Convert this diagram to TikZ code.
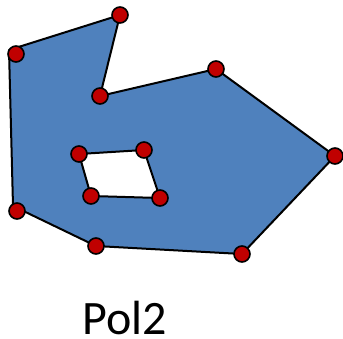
\documentclass[tikz,border=0pt]{standalone}
\usepackage{fontspec}
\setmainfont{Carlito}
\usetikzlibrary{positioning}

\definecolor{polyblue}{RGB}{79,129,189}
\definecolor{dotred}{RGB}{192,0,0}

\begin{document}
\begin{tikzpicture}[
    x=0.75pt, y=-0.75pt,
    every node/.style={font=\fontsize{36}{40}\selectfont},
    region/.style={fill=polyblue, draw=black, line width=1.5pt, even odd rule, line join=round},
    vertex/.style={circle, fill=dotred, draw=black, line width=1.2pt, inner sep=0pt, minimum size=12pt}
]
    \useasboundingbox (0,0) rectangle (343,339);

    % Outer boundary
    \coordinate (o1) at (9,50);
    \coordinate (o2) at (120,15);
    \coordinate (o3) at (100,96);
    \coordinate (o4) at (216,69);
    \coordinate (o5) at (335,156);
    \coordinate (o6) at (242,254);
    \coordinate (o7) at (96,246);
    \coordinate (o8) at (13,206);

    % Hole
    \coordinate (h1) at (79,154);
    \coordinate (h2) at (144,150);
    \coordinate (h3) at (160,198);
    \coordinate (h4) at (91,196);

    \path[region] (o1) -- (o2) -- (o3) -- (o4) -- (o5) -- (o6) -- (o7) -- (o8) -- cycle
                  (h1) -- (h2) -- (h3) -- (h4) -- cycle;

    % Vertices
    \node (v1) [vertex] at (16,54) {};
    \node (v2) [vertex] at (o2) {};
    \node (v3) [vertex] at (o3) {};
    \node (v4) [vertex] at (o4) {};
    \node (v5) [vertex] at (o5) {};
    \node (v6) [vertex] at (o6) {};
    \node (v7) [vertex] at (o7) {};
    \node (v8) [vertex] at (17,211) {};
    \node (w1) [vertex] at (h1) {};
    \node (w2) [vertex] at (h2) {};
    \node (w3) [vertex] at (h3) {};
    \node (w4) [vertex] at (h4) {};

    % Label
    \node (label) [anchor=base, inner sep=0pt] at (125,334) {Pol2};
\end{tikzpicture}
\end{document}
